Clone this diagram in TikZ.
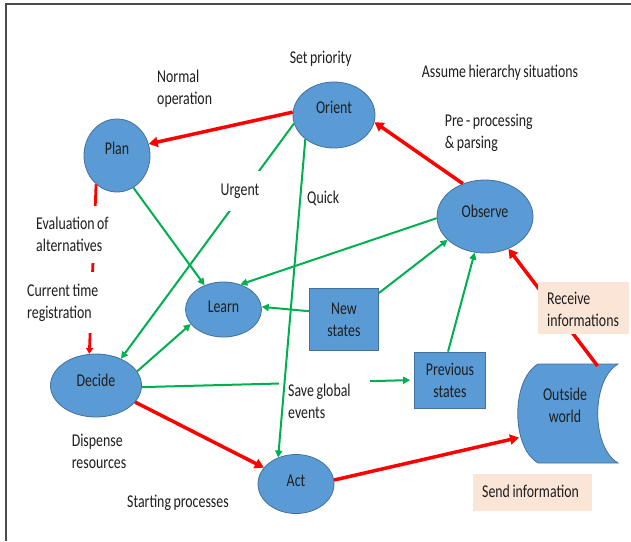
\documentclass[tikz,border=0pt]{standalone}
\usepackage{fontspec}
\setmainfont{Carlito}[FakeStretch=0.77, WordSpace=0.8]
\usetikzlibrary{shapes.geometric,arrows.meta}
\definecolor{nodeblue}{RGB}{91,155,213}
\definecolor{nodeline}{RGB}{65,113,156}
\definecolor{agreen}{RGB}{0,176,80}
\definecolor{ared}{RGB}{255,0,0}
\definecolor{peach}{RGB}{251,229,214}
\definecolor{txt}{RGB}{30,30,30}
\begin{document}
\begin{tikzpicture}[x=1pt,y=-1pt,
  font=\fontsize{18}{22}\selectfont,
  ell/.style={ellipse, fill=nodeblue, draw=nodeline, line width=0.8pt, inner sep=0pt},
  sq/.style={rectangle, fill=nodeblue, draw=nodeline, line width=0.8pt, inner sep=0pt, align=center, text=txt},
  redarr/.style={draw=ared, line width=3.5pt, -{Triangle[length=9pt,width=10pt]}},
  grnarr/.style={draw=agreen, line width=2pt, -{Triangle[length=7pt,width=7pt]}},
  lbl/.style={inner sep=0pt, align=left, text=txt},
  cover/.style={fill=white, inner sep=0pt, align=left, text=txt},
  infobox/.style={fill=peach, inner sep=0pt, anchor=north west}]
\useasboundingbox (0,0) rectangle (631,541);
\fill[white] (0,0) rectangle (631,541);
% frame
\draw[black!70, line width=1.5pt] (6,541) -- (6,4) -- (631,4);

% nodes
\node[ell, minimum width=66pt, minimum height=73pt, label={[lbl,yshift=7.5pt]center:Plan}] (plan) at (117,155.5) {};
\node[ell, minimum width=82pt, minimum height=66pt, label={[lbl,yshift=8pt]center:Orient}] (orient) at (334,115) {};
\node[ell, minimum width=96pt, minimum height=73pt, label={[lbl,yshift=4.8pt]center:Observe}] (observe) at (485,216.5) {};
\node[ell, minimum width=76pt, minimum height=55pt, label={[lbl,yshift=2.5pt]center:Learn}] (learn) at (223.5,309.5) {};
\node[ell, minimum width=91pt, minimum height=63pt, label={[lbl,yshift=4.8pt]center:Decide}] (decide) at (96,385.5) {};
\node[ell, minimum width=76pt, minimum height=59pt, label={[lbl,yshift=3.3pt]center:Act}] (act) at (296,484) {};
\node[sq, minimum width=69pt, minimum height=61.5pt] (new) at (344,319.3) {New\\states};
\node[sq, minimum width=71pt, minimum height=56pt] (prev) at (450,380) {Previous\\states};

% outside world (stored data shape)
\filldraw[fill=nodeblue, draw=nodeline, line width=0.8pt]
  (538,364) -- (618,364) .. controls (591,380) and (591,447) .. (618,463)
  -- (538,463) .. controls (511,447) and (511,380) .. (538,364) -- cycle;
\node[lbl, align=center] (ow) at (565,405) {Outside\\world};
\coordinate (owin) at (519,437.5);
\coordinate (owtop) at (597.6,366);

% red connectors
\draw[redarr] (orient.176.5) -- (plan.20.6);
\draw[redarr] (observe.124) -- (orient.-10.4);
\draw[redarr] (decide.-23) -- (act.153);
\draw[redarr] (act.6) -- (owin);
\draw[redarr] (owtop) -- (observe.-54);
\draw[draw=ared, line width=2.8pt, -{Triangle[length=6pt,width=7pt]}] (plan.234.3) -- (decide.102);

% green connectors
\draw[grnarr] (plan.-63.4) -- (learn.128.5);
\draw[grnarr] (orient.192.9) -- (decide.47.3);
\draw[grnarr] (observe.182) -- (learn.56);
\draw[grnarr] (new.167.5) -- (learn.4.5);
\draw[grnarr] (new.37) -- (observe.212.7);
\draw[grnarr] (prev.94) -- (observe.254.3);
\draw[grnarr] (decide.19) -- (learn.204.6);
\draw[grnarr, shorten >=4pt] (decide.-2) -- (prev.west);

% labels
\node[lbl] (setp) at (320.7,58.7) {Set priority};
\node[lbl, anchor=west] (normal) at (157,89) {Normal\\operation};
\node[lbl, anchor=west] (assume) at (421.7,73) {Assume hierarchy situations};
\node[lbl, anchor=west] (pre) at (444.7,133) {Pre - processing\\\& parsing};
\node[cover, minimum width=44pt, minimum height=40pt, align=center] (urgent) at (240,191) {Urgent};
\node[lbl, anchor=west] (quick) at (307,198) {Quick};
\node[cover, anchor=west, minimum height=57pt] (eval) at (36,234.5) {Evaluation of\\alternatives};
\node[cover, anchor=west, minimum height=61pt] (curr) at (27,302.5) {Current time\\registration};
\node[cover, anchor=west, minimum width=91pt, minimum height=52pt] (savebox) at (279,401) {};
\node[lbl, anchor=west] (save) at (288,401) {Save global\\events};
\node[lbl, anchor=west] (disp) at (71.6,451.5) {Dispense\\resources};
\node[lbl, anchor=west] (start) at (127,502.8) {Starting processes};
\node[infobox, minimum width=91pt, minimum height=52pt] (recvbox) at (538,282) {};
\node[lbl, anchor=west] (recv) at (547,309) {Receive\\informations};
\node[infobox, minimum width=118.5pt, minimum height=37pt] (sendbox) at (473,474) {};
\node[lbl, anchor=west] (send) at (482,491) {Send information};

% connector drawn over the label
\draw[grnarr] (orient.220.4) -- (act.124);
\end{tikzpicture}
\end{document}
